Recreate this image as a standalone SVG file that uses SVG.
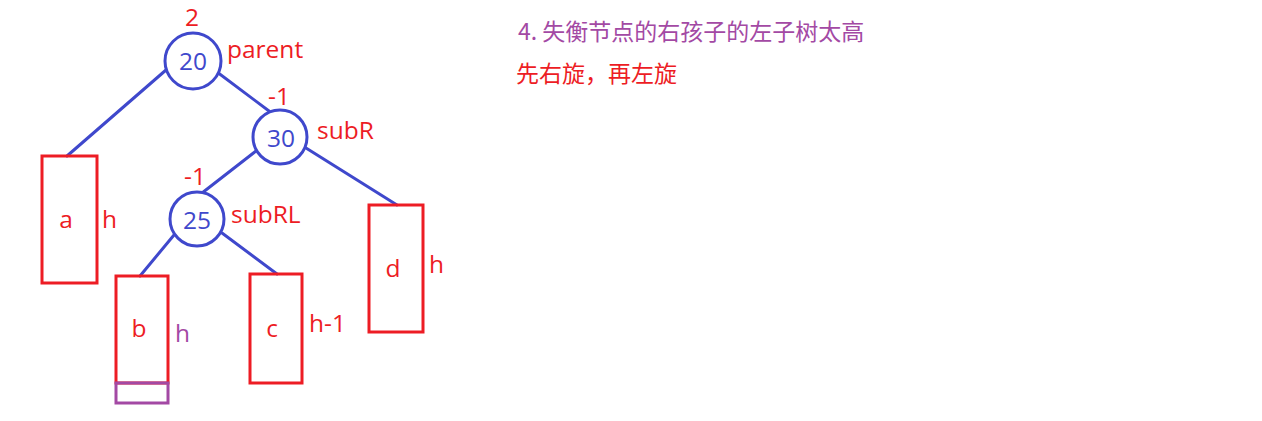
<svg xmlns="http://www.w3.org/2000/svg" width="1262" height="421" viewBox="0 0 1262 421">
<style>
.bg{fill:#ffffff}
.edge{stroke:#3f48cc;stroke-width:3;fill:none;stroke-linecap:round}
.circ{fill:#ffffff;stroke:#3f48cc;stroke-width:3}
.box{fill:none;stroke:#ed1c24;stroke-width:3}
.pbox{fill:none;stroke:#a349a4;stroke-width:3}
.t{font-family:"Open Sans","Noto Sans",sans-serif;font-size:24.5px}
.red{fill:#ed1c24}
.blue{fill:#3f48cc}
.purple{fill:#a349a4}
.cjk{font-family:"Noto Sans CJK SC","Noto Sans",sans-serif;font-size:23px}
.m{text-anchor:middle}
</style>
<rect class="bg" x="0" y="0" width="1262" height="421"/>
<g id="connectors">
<line class="edge" x1="166" y1="70" x2="67" y2="156"/>
<line class="edge" x1="217" y1="72" x2="269" y2="111"/>
<line class="edge" x1="256" y1="151" x2="202" y2="193"/>
<line class="edge" x1="306" y1="148" x2="397" y2="205"/>
<line class="edge" x1="174" y1="235" x2="140" y2="276"/>
<line class="edge" x1="222" y1="233" x2="277" y2="274"/>
</g>
<g id="node-20">
<circle class="circ" cx="193" cy="61" r="28"/>
<text class="t blue m" x="193" y="70">20</text>
<text class="t red m" x="192" y="26">2</text>
<text class="t red" x="227" y="58">parent</text>
</g>
<g id="node-30">
<circle class="circ" cx="280" cy="137" r="27"/>
<text class="t blue m" x="281" y="147">30</text>
<text class="t red" x="268" y="105">-1</text>
<text class="t red" x="317" y="139">subR</text>
</g>
<g id="node-25">
<circle class="circ" cx="197" cy="219" r="27"/>
<text class="t blue m" x="197" y="229">25</text>
<text class="t red" x="184" y="185">-1</text>
<text class="t red" x="231" y="223">subRL</text>
</g>
<g id="node-a">
<rect class="box" x="42" y="156" width="55" height="127"/>
<text class="t red m" x="66" y="228">a</text>
<text class="t red" x="102" y="228">h</text>
</g>
<g id="node-b">
<rect class="box" x="116" y="276" width="52" height="107"/>
<rect class="pbox" x="116" y="383" width="52" height="20"/>
<text class="t red m" x="139" y="337">b</text>
<text class="t purple" x="175" y="342">h</text>
</g>
<g id="node-c">
<rect class="box" x="250" y="274" width="52" height="109"/>
<text class="t red m" x="272" y="337">c</text>
<text class="t red" x="309" y="332">h-1</text>
</g>
<g id="node-d">
<rect class="box" x="369" y="205" width="54" height="127"/>
<text class="t red m" x="393" y="277">d</text>
<text class="t red" x="429" y="273">h</text>
</g>
<g id="notes">
<text class="cjk purple" x="518" y="40">4. 失衡节点的右孩子的左子树太高</text>
<text class="cjk red" x="516" y="82">先右旋，再左旋</text>
</g>
</svg>
